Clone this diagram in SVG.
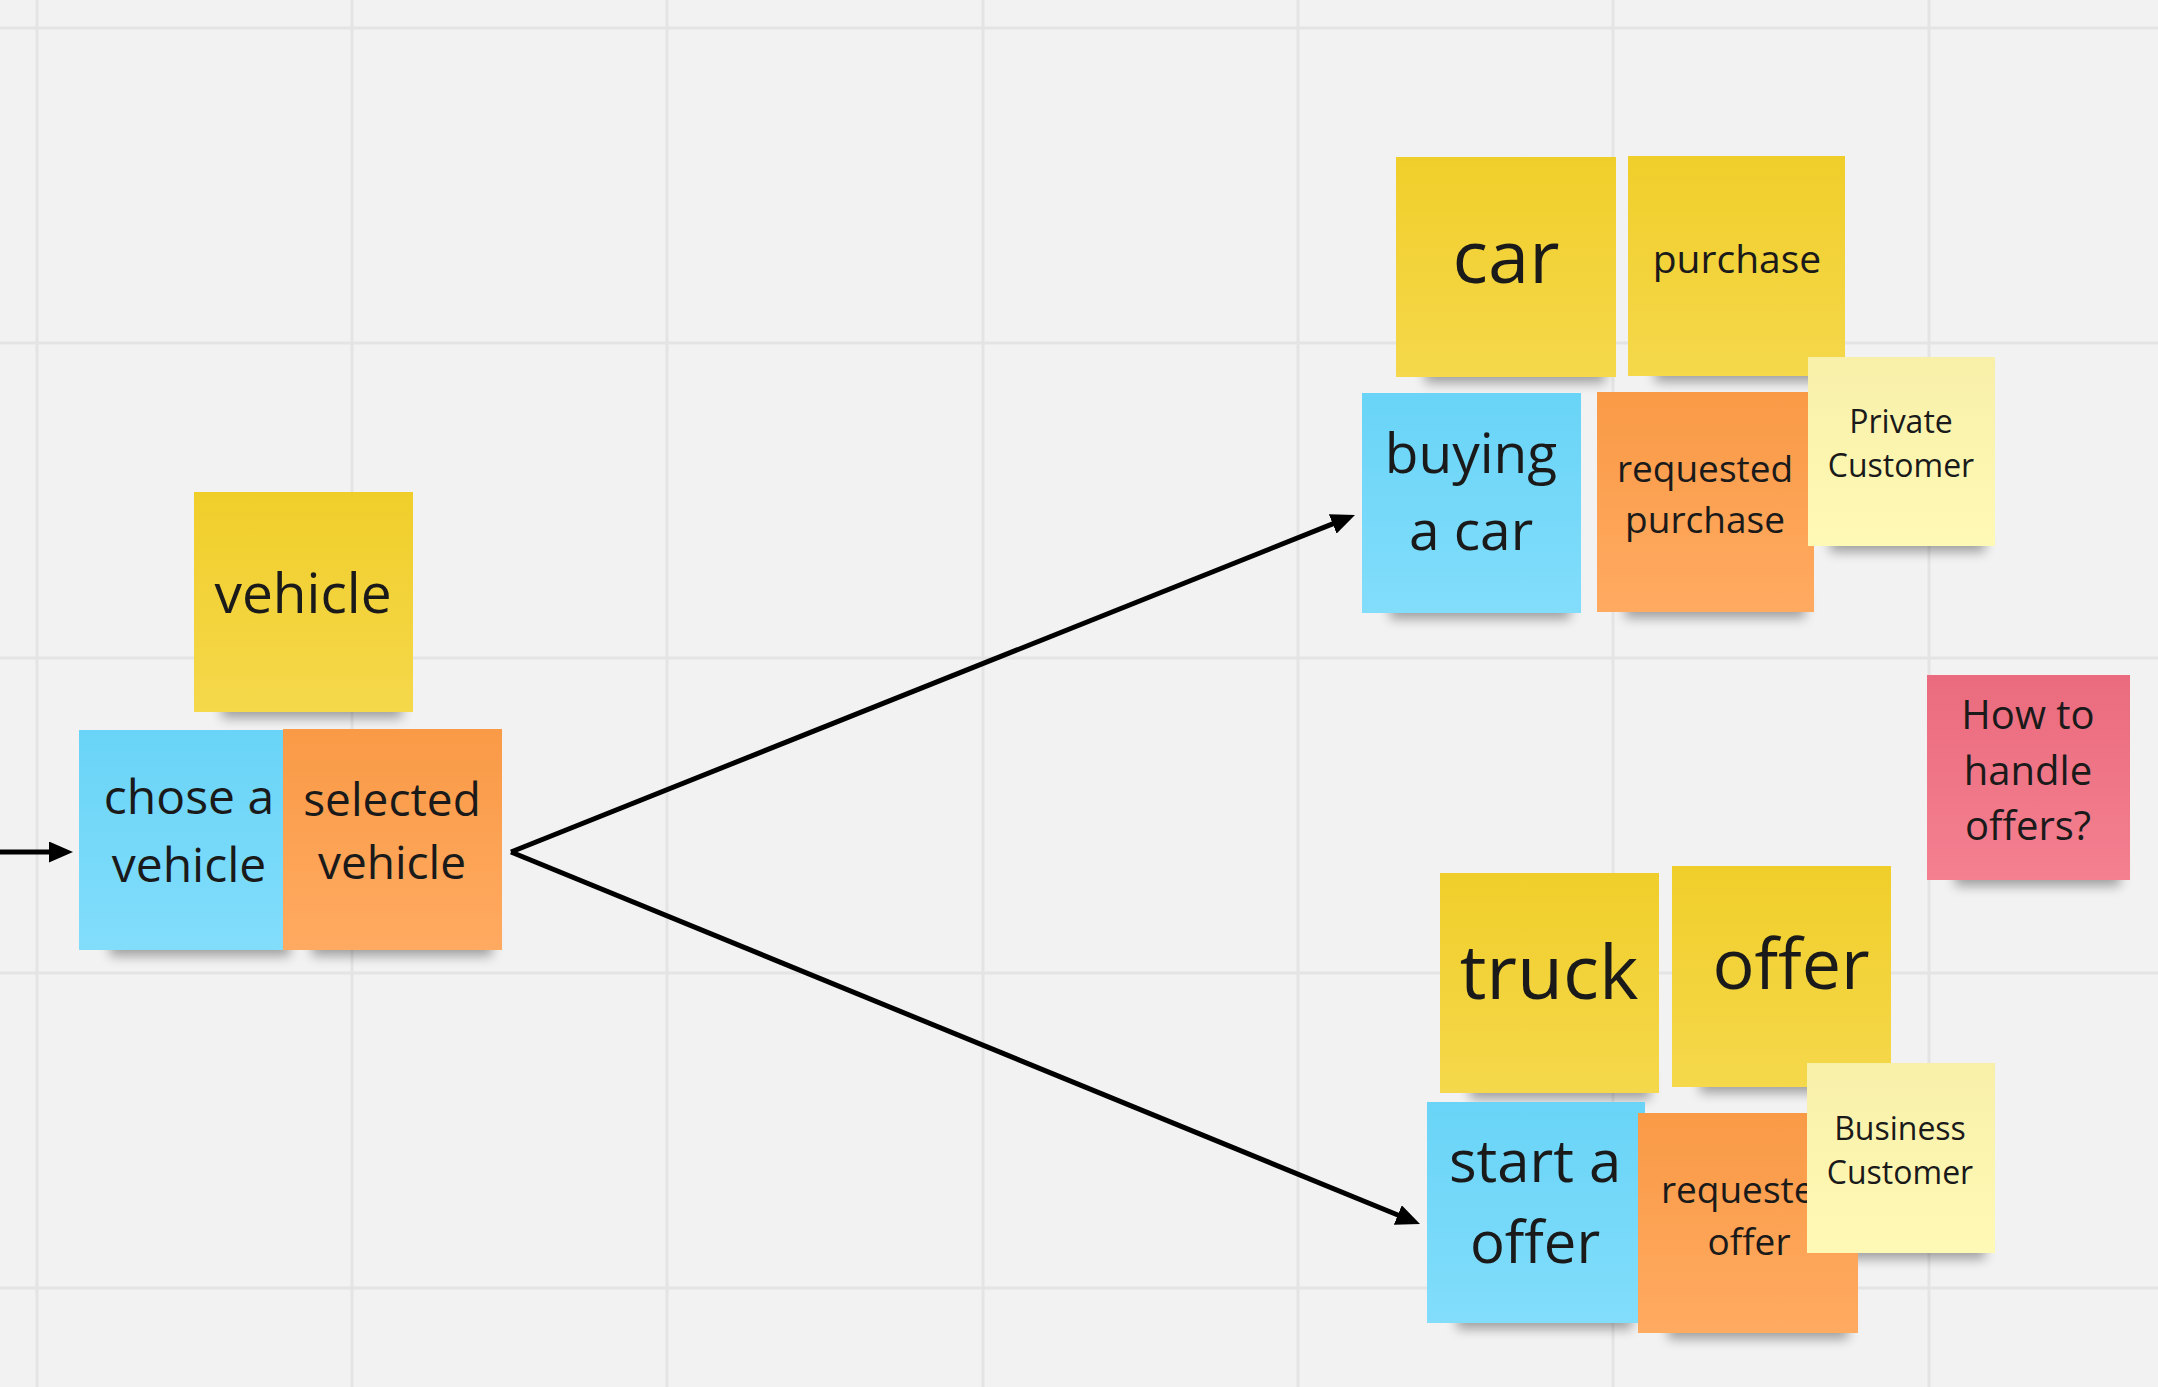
<svg xmlns="http://www.w3.org/2000/svg" width="2158" height="1387" viewBox="0 0 2158 1387">
  <defs>
    <style>
      .grid line { stroke: #E4E4E4; stroke-width: 3; }
      .shadow { fill: #000; opacity: 0.34; filter: url(#blur); }
      .note text { font-family: "Open Sans", "Noto Sans", "Liberation Sans", sans-serif; fill: #1a1a1a; text-anchor: middle; }
      .conn path { fill: none; stroke: #000; stroke-width: 5; }
      .yellow { fill: url(#gYellow); }
      .blue { fill: url(#gBlue); }
      .orange { fill: url(#gOrange); }
      .light { fill: url(#gLight); }
      .pink { fill: url(#gPink); }
    </style>
    <linearGradient id="gYellow" x1="0" y1="0" x2="0" y2="1">
      <stop offset="0" stop-color="#F0CE2A"/>
      <stop offset="1" stop-color="#F5D84B"/>
    </linearGradient>
    <linearGradient id="gBlue" x1="0" y1="0" x2="0" y2="1">
      <stop offset="0" stop-color="#69D4F7"/>
      <stop offset="1" stop-color="#82DDFB"/>
    </linearGradient>
    <linearGradient id="gOrange" x1="0" y1="0" x2="0" y2="1">
      <stop offset="0" stop-color="#F99A46"/>
      <stop offset="1" stop-color="#FFAA61"/>
    </linearGradient>
    <linearGradient id="gLight" x1="0" y1="0" x2="0" y2="1">
      <stop offset="0" stop-color="#F8F0A9"/>
      <stop offset="1" stop-color="#FFF9B6"/>
    </linearGradient>
    <linearGradient id="gPink" x1="0" y1="0" x2="0" y2="1">
      <stop offset="0" stop-color="#EA6B7E"/>
      <stop offset="1" stop-color="#F48090"/>
    </linearGradient>
    <filter id="blur" x="-20%" y="-100%" width="140%" height="300%">
      <feGaussianBlur stdDeviation="6"/>
    </filter>
    <marker id="arrow" markerUnits="userSpaceOnUse" viewBox="0 0 24 21" markerWidth="24" markerHeight="21" refX="4" refY="10.5" orient="auto">
      <path d="M0,0 L24,10.5 L0,21 z" fill="#000"/>
    </marker>
  </defs>

  <rect x="0" y="0" width="2158" height="1387" fill="#F2F2F2"/>

  <g class="grid">
    <line x1="37" y1="0" x2="37" y2="1387"/>
    <line x1="352" y1="0" x2="352" y2="1387"/>
    <line x1="667" y1="0" x2="667" y2="1387"/>
    <line x1="983" y1="0" x2="983" y2="1387"/>
    <line x1="1298" y1="0" x2="1298" y2="1387"/>
    <line x1="1613" y1="0" x2="1613" y2="1387"/>
    <line x1="1929" y1="0" x2="1929" y2="1387"/>
    <line x1="0" y1="28" x2="2158" y2="28"/>
    <line x1="0" y1="343" x2="2158" y2="343"/>
    <line x1="0" y1="658" x2="2158" y2="658"/>
    <line x1="0" y1="973" x2="2158" y2="973"/>
    <line x1="0" y1="1288" x2="2158" y2="1288"/>
  </g>

  <g id="shadows">
    <rect class="shadow" x="222" y="690" width="180" height="28"/>
    <rect class="shadow" x="110" y="928" width="180" height="28"/>
    <rect class="shadow" x="312" y="928" width="180" height="28"/>
    <rect class="shadow" x="1425" y="355" width="180" height="28"/>
    <rect class="shadow" x="1655" y="354" width="180" height="28"/>
    <rect class="shadow" x="1390" y="591" width="180" height="28"/>
    <rect class="shadow" x="1625" y="590" width="180" height="28"/>
    <rect class="shadow" x="1830" y="524" width="155" height="28"/>
    <rect class="shadow" x="1955" y="858" width="165" height="28"/>
    <rect class="shadow" x="1470" y="1071" width="180" height="28"/>
    <rect class="shadow" x="1700" y="1065" width="180" height="28"/>
    <rect class="shadow" x="1457" y="1301" width="175" height="28"/>
    <rect class="shadow" x="1668" y="1311" width="180" height="28"/>
    <rect class="shadow" x="1835" y="1231" width="150" height="28"/>
  </g>

  <g class="conn" id="connectors">
    <path d="M0,852 L53,852" marker-end="url(#arrow)"/>
    <path d="M511,852 L1336.4,522.4" marker-end="url(#arrow)"/>
    <path d="M511,852 L1401.5,1216.5" marker-end="url(#arrow)"/>
  </g>

  <g class="note" id="note-vehicle">
    <rect class="yellow" x="194" y="492" width="219" height="220"/>
    <text x="303" y="613" font-size="55">vehicle</text>
  </g>

  <g class="note" id="note-chose-a-vehicle">
    <rect class="blue" x="79" y="730" width="219" height="220"/>
    <text x="189" y="814" font-size="48">chose a</text>
    <text x="189" y="882" font-size="48">vehicle</text>
  </g>

  <g class="note" id="note-selected-vehicle">
    <rect class="orange" x="283" y="729" width="219" height="221"/>
    <text x="392" y="816" font-size="46">selected</text>
    <text x="392" y="879" font-size="46">vehicle</text>
  </g>

  <g class="note" id="note-car">
    <rect class="yellow" x="1396" y="157" width="220" height="220"/>
    <text x="1506" y="283" font-size="74">car</text>
  </g>

  <g class="note" id="note-purchase">
    <rect class="yellow" x="1628" y="156" width="217" height="220"/>
    <text x="1737" y="273" font-size="39">purchase</text>
  </g>

  <g class="note" id="note-buying-a-car">
    <rect class="blue" x="1362" y="393" width="219" height="220"/>
    <text x="1471" y="473" font-size="55">buying</text>
    <text x="1471" y="550" font-size="55">a car</text>
  </g>

  <g class="note" id="note-requested-purchase">
    <rect class="orange" x="1597" y="392" width="217" height="220"/>
    <text x="1705" y="482" font-size="37">requested</text>
    <text x="1705" y="533" font-size="37">purchase</text>
  </g>

  <g class="note" id="note-private-customer">
    <rect class="light" x="1808" y="357" width="187" height="189"/>
    <text x="1901" y="433" font-size="32">Private</text>
    <text x="1901" y="477" font-size="32">Customer</text>
  </g>

  <g class="note" id="note-how-to-handle-offers">
    <rect class="pink" x="1927" y="675" width="203" height="205"/>
    <text x="2028" y="729" font-size="40">How to</text>
    <text x="2028" y="785" font-size="40">handle</text>
    <text x="2028" y="840" font-size="40">offers?</text>
  </g>

  <g class="note" id="note-truck">
    <rect class="yellow" x="1440" y="873" width="219" height="220"/>
    <text x="1549" y="999" font-size="75">truck</text>
  </g>

  <g class="note" id="note-offer">
    <rect class="yellow" x="1672" y="866" width="219" height="221"/>
    <text x="1791" y="989" font-size="70">offer</text>
  </g>

  <g class="note" id="note-start-a-offer">
    <rect class="blue" x="1427" y="1102" width="218" height="221"/>
    <text x="1535" y="1182" font-size="58">start a</text>
    <text x="1535" y="1263" font-size="58">offer</text>
  </g>

  <g class="note" id="note-requested-offer">
    <rect class="orange" x="1638" y="1113" width="220" height="220"/>
    <text x="1749" y="1203" font-size="37">requested</text>
    <text x="1749" y="1255" font-size="37">offer</text>
  </g>

  <g class="note" id="note-business-customer">
    <rect class="light" x="1807" y="1063" width="188" height="190"/>
    <text x="1900" y="1140" font-size="32">Business</text>
    <text x="1900" y="1184" font-size="32">Customer</text>
  </g>
</svg>
